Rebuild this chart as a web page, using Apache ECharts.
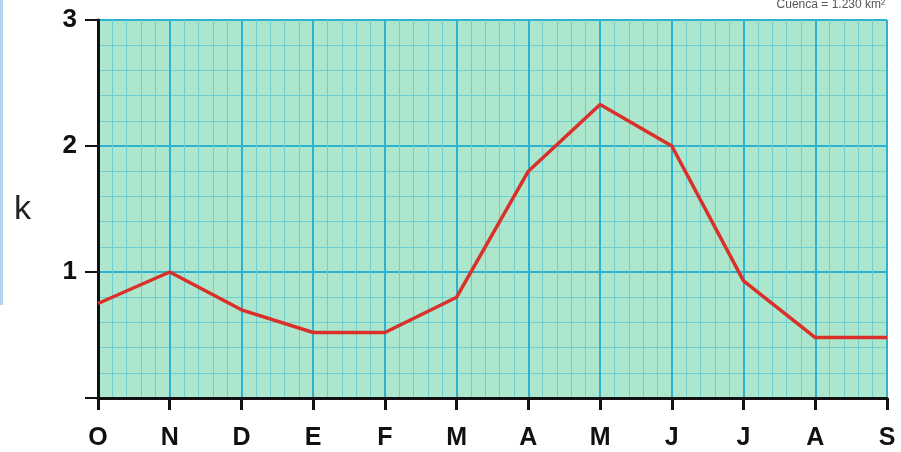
<!DOCTYPE html>
<html>
<head>
<meta charset="utf-8">
<script src="https://cdn.jsdelivr.net/npm/echarts@6/dist/echarts.min.js"></script>
<style>html,body{margin:0;padding:0;background:#fff}#c{width:901px;height:452px}</style>
</head>
<body>
<div id="c"></div>
<script>
const months = ['O','N','D','E','F','M','A','M','J','J','A','S'];
const kValues = [0.75, 1.0, 0.7, 0.52, 0.52, 0.8, 1.8, 2.33, 2.0, 0.93, 0.48, 0.48];
const yTicks = [0, 1, 2, 3];
const note = 'Cuenca = 1.230 km²';

const chart = echarts.init(document.getElementById('c'));
chart.setOption({
  animation: false,
  backgroundColor: '#ffffff',
  grid: { left: 98, right: 14, top: 20, bottom: 54, show: true, backgroundColor: '#ace6cc', borderWidth: 0 },
  graphic: [
    { type: 'rect', left: 0, top: 0, shape: { width: 3, height: 305 }, style: { fill: '#b3d4f3' } },
    { type: 'text', left: 14, top: 193, style: { text: 'k', font: '34px "Liberation Sans", Arial, sans-serif', fill: '#222' } },
    { type: 'text', right: 16, top: -1, style: { text: note, font: '12px "Liberation Sans", Arial, sans-serif', fill: '#555' } }
  ],
  xAxis: {
    type: 'value', min: 0, max: months.length - 1, interval: 1,
    axisLine: { show: true, onZero: false, lineStyle: { color: '#111', width: 3 } },
    axisTick: { show: true, length: 12, lineStyle: { color: '#111', width: 3 } },
    axisLabel: { formatter: v => months[v] || '', color: '#111', fontSize: 25, fontWeight: 'bold', fontFamily: '"Liberation Sans", Arial, sans-serif', margin: 28 },
    splitLine: { show: true, lineStyle: { color: '#2eb2d2', width: 2 } },
    minorTick: { show: false, splitNumber: 5 },
    minorSplitLine: { show: true, lineStyle: { color: '#6fcfd0', width: 1 } }
  },
  yAxis: {
    type: 'value', min: yTicks[0], max: yTicks[yTicks.length - 1], interval: 1,
    axisLine: { show: true, lineStyle: { color: '#111', width: 3 } },
    axisTick: { show: true, length: 13, lineStyle: { color: '#111', width: 2 } },
    axisLabel: { formatter: v => v === 0 ? '' : String(v), color: '#111', fontSize: 26, fontWeight: 'bold', fontFamily: '"Liberation Sans", Arial, sans-serif', margin: 21, padding: [6, 0, 0, 0] },
    splitLine: { show: true, lineStyle: { color: '#2eb2d2', width: 2 } },
    minorTick: { show: false, splitNumber: 5 },
    minorSplitLine: { show: true, lineStyle: { color: '#6fcfd0', width: 1 } }
  },
  series: [{
    type: 'line',
    data: kValues.map((v, i) => [i, v]),
    symbol: 'none',
    lineStyle: { color: '#d9302a', width: 3.5 },
    z: 5
  }]
});
</script>
</body>
</html>
